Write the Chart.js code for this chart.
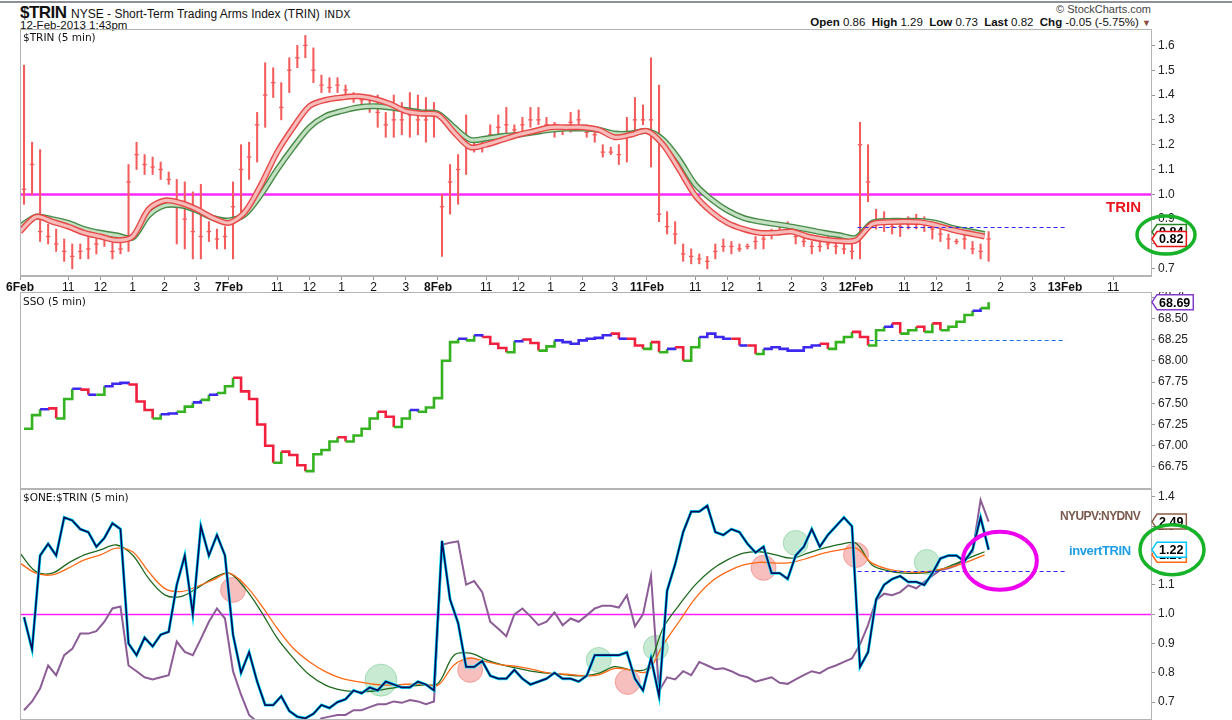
<!DOCTYPE html>
<html>
<head>
<meta charset="utf-8">
<script src="https://cdn.jsdelivr.net/npm/chart.js@4.4.1/dist/chart.umd.min.js"></script>
<style>
  body { margin: 0; background: #fff; width: 1232px; height: 720px; overflow: hidden; position: relative; font-family: "Liberation Sans", Arial, sans-serif; }
  .pane { position: absolute; left: 0; }
  .t { position: absolute; white-space: nowrap; color: #111; }
  .lbl { font: 10.5px "DejaVu Sans", sans-serif; }
</style>
</head>
<body>
<div style="position:absolute;left:0;top:1px;width:1232px;height:2px;background:#8c9099"></div>
<div class="t" style="left:20px;top:3px"><b style="font:bold 17px 'Liberation Sans Narrow','Liberation Sans';letter-spacing:-0.5px">$TRIN</b> <span style="font-size:12px">NYSE - Short-Term Trading Arms Index (TRIN)</span> <span style="font:10.5px 'DejaVu Sans'">INDX</span></div>
<div class="t" style="left:20px;top:19px;font-size:11.5px">12-Feb-2013 1:43pm</div>
<div class="t" style="right:81px;top:3px;font-size:11px;color:#444">© StockCharts.com</div>
<div class="t" style="right:81px;top:16px;font-size:11.5px"><b>Open</b> 0.86 &nbsp;<b>High</b> 1.29 &nbsp;<b>Low</b> 0.73 &nbsp;<b>Last</b> 0.82 &nbsp;<b>Chg</b> -0.05 (-5.75%) <span style="color:#8b4a3a;font-size:9px">▼</span></div>

<div class="pane" style="top:29px"><canvas id="trin" width="1232" height="262"></canvas></div>
<div class="pane" style="top:292px"><canvas id="sso" width="1232" height="197"></canvas></div>
<div class="pane" style="top:489px"><canvas id="one" width="1232" height="231"></canvas></div>

<div class="t lbl" style="left:23px;top:31px">$TRIN (5 min)</div>
<div class="t lbl" style="left:23px;top:295px">SSO (5 min)</div>
<div class="t lbl" style="left:23px;top:491px">$ONE:$TRIN (5 min)</div>
<div class="t" style="left:1106px;top:198px;font:bold 15px 'Liberation Sans';color:#e8141e">TRIN</div>
<div class="t" style="left:1060px;top:509px;font:bold 12px 'Liberation Sans';letter-spacing:-0.6px;color:#7a5a4e">NYUPV:NYDNV</div>
<div class="t" style="left:1069px;top:543px;font:bold 13px 'Liberation Sans';letter-spacing:-0.4px;color:#1e9ee6">invertTRIN</div>

<script>
// ---------- data (15-minute slots, 26 per session, starting 9:30) ----------
const days = ['6Feb', '7Feb', '8Feb', '11Feb', '12Feb', '13Feb'];
const hourLabels = ['11', '12', '1', '2', '3'];
const hourSlots = [6, 10, 14, 18, 22];
const SLOTS_PER_DAY = 26;
const X_MAX = 140.7;
const MA_STEP = 2;   // moving averages sampled every 30 min

const trinTicks = [0.7, 0.8, 0.9, 1.0, 1.1, 1.2, 1.3, 1.4, 1.5, 1.6];
const ssoTicks = [66.75, 67.0, 67.25, 67.5, 67.75, 68.0, 68.25, 68.5, 68.75];
const oneTicks = [0.7, 0.8, 0.9, 1.0, 1.1, 1.2, 1.3, 1.4];

const trinHigh = [
  1.52,1.21,1.18,0.88,0.86,0.82,0.80,0.80,0.83,0.84,0.84,0.81,0.81,1.12,1.21,1.16,1.15,1.13,1.09,1.06,1.05,1.01,1.04,0.89,0.86,0.87,
  1.05,1.20,1.21,1.33,1.53,1.51,1.45,1.55,1.60,1.64,1.59,1.48,1.47,1.47,1.44,1.41,1.40,1.40,1.40,1.33,1.40,1.37,1.41,1.40,1.39,1.37,
  1.00,1.12,1.16,1.32,1.21,1.22,1.28,1.32,1.35,1.28,1.31,1.35,1.35,1.31,1.29,1.27,1.33,1.34,1.28,1.27,1.20,1.19,1.20,1.31,1.39,1.36,
  1.55,1.44,0.93,0.89,0.80,0.78,0.76,0.75,0.80,0.82,0.81,0.80,0.80,0.83,0.85,0.86,0.87,0.89,0.86,0.84,0.81,0.81,0.84,0.82,0.81,0.80,
  1.29,1.20,0.94,0.93,0.90,0.90,0.91,0.92,0.91,0.88,0.86,0.84,0.82,0.84,0.81,0.80,0.85
];
const trinLow = [
  0.96,1.00,0.81,0.80,0.77,0.73,0.70,0.74,0.74,0.76,0.79,0.74,0.76,0.77,1.10,1.08,1.08,1.06,1.04,0.80,0.78,0.74,0.74,0.81,0.78,0.78,
  0.74,0.92,1.06,1.13,1.27,1.39,1.30,1.41,1.51,1.55,1.45,1.41,1.41,1.41,1.40,1.37,1.36,1.33,1.27,1.23,1.23,1.24,1.23,1.24,1.21,1.23,
  0.75,0.92,0.96,1.08,1.17,1.17,1.20,1.24,1.24,1.23,1.25,1.27,1.28,1.25,1.23,1.24,1.25,1.27,1.23,1.21,1.15,1.16,1.12,1.13,1.25,1.28,
  1.11,0.89,0.84,0.80,0.73,0.72,0.72,0.70,0.74,0.77,0.76,0.77,0.78,0.78,0.78,0.82,0.84,0.85,0.80,0.79,0.76,0.77,0.78,0.76,0.76,0.74,
  0.74,0.97,0.86,0.85,0.84,0.83,0.86,0.86,0.85,0.82,0.81,0.78,0.80,0.78,0.76,0.74,0.73
];
const trinClose = [
  1.02,1.12,0.85,0.83,0.80,0.77,0.75,0.77,0.78,0.80,0.82,0.77,0.78,1.05,1.16,1.12,1.11,1.10,1.06,0.95,0.90,0.85,0.83,0.85,0.82,0.83,
  0.95,1.10,1.15,1.28,1.40,1.45,1.35,1.50,1.55,1.60,1.50,1.44,1.43,1.44,1.42,1.39,1.38,1.36,1.33,1.28,1.30,1.30,1.32,1.30,1.30,1.32,
  0.95,1.05,1.10,1.20,1.19,1.20,1.24,1.27,1.28,1.26,1.28,1.30,1.30,1.28,1.26,1.26,1.29,1.30,1.25,1.24,1.17,1.17,1.16,1.25,1.30,1.30,
  1.30,0.92,0.87,0.84,0.76,0.75,0.74,0.73,0.77,0.79,0.79,0.78,0.79,0.81,0.82,0.84,0.85,0.87,0.83,0.81,0.79,0.79,0.80,0.79,0.78,0.77,
  1.20,1.05,0.88,0.88,0.87,0.87,0.88,0.89,0.88,0.86,0.84,0.82,0.81,0.82,0.78,0.77,0.82
];
const trinFastMA = [
  0.85,0.91,0.89,0.87,0.845,0.83,0.815,0.83,0.94,0.975,0.965,0.94,0.905,
  0.885,0.93,1.04,1.17,1.27,1.355,1.38,1.39,1.395,1.385,1.365,1.335,1.325,
  1.32,1.25,1.19,1.20,1.22,1.24,1.255,1.27,1.27,1.27,1.26,1.23,1.24,
  1.255,1.20,1.10,0.995,0.93,0.885,0.86,0.845,0.845,0.85,0.83,0.818,0.812,
  0.815,0.88,0.888,0.89,0.888,0.875,0.857,0.843,0.83
];
const trinSlowMA = [
  0.87,0.91,0.90,0.885,0.86,0.845,0.835,0.825,0.915,0.955,0.955,0.935,0.905,
  0.895,0.92,1.00,1.10,1.19,1.27,1.315,1.335,1.35,1.355,1.35,1.34,1.33,
  1.325,1.27,1.22,1.225,1.235,1.24,1.25,1.26,1.265,1.265,1.26,1.245,1.245,
  1.255,1.22,1.14,1.04,0.98,0.935,0.905,0.89,0.88,0.87,0.858,0.845,0.835,
  0.825,0.885,0.893,0.893,0.893,0.885,0.865,0.852,0.84
];
const ssoClose = [
  67.20,67.36,67.43,67.44,67.32,67.55,67.67,67.66,67.60,67.60,67.70,67.73,67.74,67.72,67.52,67.42,67.32,67.37,67.38,67.40,67.46,67.51,67.54,67.60,67.62,67.70,
  67.80,67.64,67.55,67.25,67.00,66.80,66.93,66.89,66.77,66.70,66.90,66.95,67.05,67.10,67.05,67.12,67.20,67.32,67.40,67.34,67.22,67.32,67.42,67.40,67.45,67.56,
  68.00,68.22,68.26,68.24,68.30,68.28,68.20,68.15,68.10,68.23,68.25,68.21,68.12,68.17,68.24,68.22,68.20,68.24,68.26,68.27,68.30,68.32,68.26,68.26,68.18,68.14,
  68.22,68.10,68.14,68.16,68.00,68.16,68.28,68.32,68.28,68.26,68.26,68.18,68.18,68.08,68.14,68.16,68.14,68.12,68.12,68.16,68.18,68.20,68.14,68.22,68.28,68.34,
  68.28,68.18,68.36,68.40,68.44,68.32,68.36,68.40,68.34,68.44,68.36,68.40,68.46,68.54,68.59,68.62,68.69
];
const invertTrin = [
  0.99,0.88,1.20,1.24,1.20,1.33,1.32,1.29,1.28,1.23,1.26,1.31,1.29,0.90,0.86,0.92,0.89,0.93,0.94,1.10,1.20,1.00,1.30,1.20,1.27,1.20,
  0.93,0.80,0.87,0.77,0.69,0.69,0.72,0.67,0.65,0.645,0.66,0.69,0.68,0.70,0.71,0.74,0.73,0.75,0.74,0.77,0.76,0.75,0.75,0.77,0.76,0.74,
  1.25,1.05,0.97,0.82,0.82,0.84,0.79,0.78,0.78,0.81,0.78,0.76,0.77,0.78,0.80,0.78,0.78,0.77,0.79,0.86,0.86,0.86,0.86,0.87,0.78,0.74,
  0.85,0.72,1.08,1.17,1.28,1.35,1.35,1.37,1.28,1.27,1.29,1.28,1.24,1.21,1.23,1.14,1.14,1.12,1.20,1.23,1.29,1.23,1.27,1.30,1.33,1.30,
  0.82,0.87,1.05,1.10,1.12,1.13,1.11,1.11,1.10,1.14,1.19,1.20,1.20,1.18,1.22,1.33,1.22
];
const upDownVol = [
  0.28,0.31,0.36,0.47,0.42,0.53,0.57,0.68,0.68,0.70,0.78,0.91,0.93,0.47,0.44,0.41,0.40,0.41,0.42,0.62,0.55,0.53,0.64,0.78,0.91,0.81,
  0.44,0.335,0.265,0.245,0.20,0.18,0.17,0.18,0.20,0.22,0.23,0.255,0.26,0.265,0.265,0.28,0.28,0.29,0.30,0.30,0.31,0.305,0.315,0.31,0.30,0.31,
  1.90,1.95,1.98,1.20,1.25,1.10,0.78,0.72,0.66,0.85,0.91,0.83,0.75,0.78,0.87,0.75,0.81,0.78,0.84,0.91,0.94,0.94,0.92,1.06,0.74,0.85,
  1.33,0.35,0.41,0.40,0.44,0.42,0.49,0.47,0.45,0.455,0.44,0.42,0.41,0.39,0.40,0.41,0.385,0.38,0.40,0.42,0.44,0.43,0.455,0.47,0.49,0.51,
  0.60,0.75,1.00,1.08,1.06,1.10,1.19,1.15,1.24,1.33,1.42,1.45,1.50,1.62,1.75,3.20,2.49
];
const invMaGreen = [
  1.208,1.145,1.14,1.174,1.202,1.219,1.236,1.202,1.122,1.066,1.06,1.088,1.122,
  1.14,1.088,1.009,0.918,0.85,0.793,0.758,0.741,0.736,0.738,0.747,0.753,0.758,
  0.764,0.86,0.867,0.844,0.827,0.815,0.804,0.798,0.793,0.79,0.798,0.821,0.81,
  0.815,0.952,1.031,1.10,1.151,1.185,1.208,1.213,1.202,1.191,1.208,1.225,1.238,
  1.242,1.168,1.148,1.14,1.14,1.148,1.168,1.191,1.213
];
const invMaOrange = [
  1.174,1.14,1.134,1.157,1.185,1.202,1.225,1.213,1.145,1.088,1.077,1.094,1.117,
  1.14,1.10,1.031,0.952,0.884,0.838,0.804,0.781,0.77,0.761,0.758,0.761,0.761,
  0.758,0.827,0.85,0.838,0.827,0.821,0.81,0.798,0.795,0.79,0.793,0.815,0.81,
  0.804,0.895,0.975,1.054,1.111,1.145,1.168,1.177,1.174,1.177,1.191,1.208,1.219,
  1.225,1.174,1.154,1.145,1.143,1.151,1.162,1.18,1.202
];

// reference levels and chart markings
const trinBase = 1.0, trinSupport = 0.87, ssoSupport = 68.24, oneBase = 1.0, oneSupport = 1.147;
const supportFrom = 104.2, supportTo = 130.2;
const oneMarks = [
  [26.5, 1.083, 'r'], [44.9, 0.775, 'g'], [56, 0.81, 'r'], [72, 0.844, 'g'], [75.6, 0.769, 'r'],
  [79.1, 0.885, 'g'], [92.5, 1.158, 'r'], [96.5, 1.243, 'g'], [104, 1.202, 'r'], [112.8, 1.178, 'g']
];
const oneFocus = [121.9, 1.182];

// ---------- helpers ----------
const FONT = 'Liberation Sans';
const DASH_BLUE = 'rgb(40,40,255)';
const atSlot = arr => arr.map((v, i) => ({ x: i + 0.5, y: v }));
const atMa = arr => arr.map((v, i) => ({ x: i * MA_STEP, y: v }));

const xTicks = [];
days.forEach((d, i) => {
  xTicks.push(i * SLOTS_PER_DAY);
  hourSlots.forEach(h => { if (i * SLOTS_PER_DAY + h < X_MAX - 4) xTicks.push(i * SLOTS_PER_DAY + h); });
});
function xLabel(v) {
  if (v % SLOTS_PER_DAY === 0) return days[v / SLOTS_PER_DAY];
  return hourLabels[hourSlots.indexOf(v % SLOTS_PER_DAY)];
}
// keep label overhang from shrinking the plot area
function noPad(s) { s.paddingTop = 0; s.paddingBottom = 0; s.paddingLeft = 0; s.paddingRight = 0; }

function xAxis(show) {
  return {
    type: 'linear', min: 0, max: X_MAX, offset: false, display: show,
    afterBuildTicks: s => { s.ticks = xTicks.map(v => ({ value: v })); },
    afterFit: s => { s.height = show ? 15 : 0; noPad(s); },
    ticks: {
      autoSkip: false, maxRotation: 0, padding: 0, color: '#111',
      callback: v => xLabel(v),
      font: c => ({ family: FONT, size: 12, weight: c.tick && c.tick.value % SLOTS_PER_DAY === 0 ? 'bold' : 'normal' })
    },
    grid: { drawOnChartArea: false, tickLength: 4, color: '#999', offset: false },
    border: { color: '#b4b4b4' }
  };
}
function yAxis(min, max, ticks, digits) {
  return {
    position: 'right', min, max,
    afterFit: s => { s.width = 81; noPad(s); },
    afterBuildTicks: s => { s.ticks = ticks.map(v => ({ value: v })); },
    ticks: { callback: v => v.toFixed(digits), color: '#222', font: { family: FONT, size: 12 }, padding: 3, autoSkip: false },
    grid: { drawOnChartArea: false, tickLength: 4, color: '#999' },
    border: { color: '#b4b4b4' }
  };
}

function frame(c) {
  const a = c.chartArea, ctx = c.ctx;
  ctx.save();
  ctx.strokeStyle = '#b4b4b4';
  ctx.lineWidth = 1;
  ctx.strokeRect(a.left + 0.5, a.top + 0.5, a.width, a.height - 1);
  ctx.restore();
}
function level(c, v, color, width, dash, x0, x1) {
  const ctx = c.ctx, a = c.chartArea;
  const y = Math.round(c.scales.y.getPixelForValue(v)) + 0.5;
  const l = x0 == null ? a.left : c.scales.x.getPixelForValue(x0);
  const r = x1 == null ? a.right : c.scales.x.getPixelForValue(x1);
  ctx.save();
  ctx.strokeStyle = color;
  ctx.lineWidth = width;
  ctx.setLineDash(dash || []);
  ctx.beginPath(); ctx.moveTo(l, y); ctx.lineTo(r, y); ctx.stroke();
  ctx.restore();
}
function valueBox(c, y, text, border) {
  const ctx = c.ctx, x = c.chartArea.right + 1;
  ctx.save();
  ctx.font = 'bold 12.5px "Liberation Sans"';
  const w = ctx.measureText(text).width + 5, h = 15;
  ctx.beginPath();
  ctx.moveTo(x, y); ctx.lineTo(x + 5, y - h / 2); ctx.lineTo(x + 5 + w, y - h / 2);
  ctx.lineTo(x + 5 + w, y + h / 2); ctx.lineTo(x + 5, y + h / 2); ctx.closePath();
  ctx.fillStyle = '#fff'; ctx.fill();
  ctx.lineWidth = 1.5; ctx.strokeStyle = border; ctx.stroke();
  ctx.fillStyle = '#000'; ctx.textBaseline = 'middle';
  ctx.fillText(text, x + 7, y + 1);
  ctx.restore();
}
function ring(ctx, x, y, rx, ry, color, width) {
  ctx.save();
  ctx.strokeStyle = color; ctx.lineWidth = width;
  ctx.beginPath(); ctx.ellipse(x, y, rx, ry, 0, 0, Math.PI * 2); ctx.stroke();
  ctx.restore();
}

const base = {
  responsive: false, animation: false,
  layout: { autoPadding: false, padding: { left: 20, right: 0, top: 0, bottom: 0 } },
  plugins: { legend: { display: false }, tooltip: { enabled: false } },
  elements: { point: { radius: 0 } }
};

// ---------- $TRIN ----------
const TRIN_RED = 'rgb(244,92,92)';
new Chart(document.getElementById('trin'), {
  type: 'bar',
  data: {
    datasets: [
      { type: 'bar', data: trinHigh.map((h, i) => ({ x: i + 0.5, y: [trinLow[i], h] })), backgroundColor: TRIN_RED, barThickness: 1.4, order: 10 },
      { type: 'line', data: atSlot(trinClose), showLine: false, pointStyle: 'line', pointRadius: 2.2, borderColor: TRIN_RED, borderWidth: 1.3, order: 9 },
      { type: 'line', data: atMa(trinSlowMA), borderColor: 'rgb(72,138,72)', borderWidth: 6, tension: 0.3, order: 4 },
      { type: 'line', data: atMa(trinSlowMA), borderColor: 'rgb(196,224,194)', borderWidth: 3.2, tension: 0.3, order: 3 },
      { type: 'line', data: atMa(trinFastMA), borderColor: 'rgb(232,72,72)', borderWidth: 6, tension: 0.3, order: 2 },
      { type: 'line', data: atMa(trinFastMA), borderColor: 'rgb(246,188,186)', borderWidth: 3.2, tension: 0.3, order: 1 }
    ]
  },
  options: Object.assign({}, base, {
    scales: { x: xAxis(true), y: yAxis(0.671, 1.666, trinTicks, 1) }
  }),
  plugins: [{
    id: 'trinMarks',
    beforeDatasetsDraw(c) { level(c, trinBase, 'rgb(255,40,255)', 2.5); },
    afterDatasetsDraw(c) { level(c, trinSupport, DASH_BLUE, 1.2, [4, 3], supportFrom, supportTo); },
    afterDraw(c) {
      frame(c);
      const sy = c.scales.y;
      const yLast = sy.getPixelForValue(trinClose[trinClose.length - 1]);
      valueBox(c, yLast - 7, trinSlowMA[trinSlowMA.length - 1].toFixed(2), 'rgb(40,130,40)');
      valueBox(c, yLast, trinClose[trinClose.length - 1].toFixed(2), 'rgb(230,20,20)');
      ring(c.ctx, c.chartArea.right + 15, yLast - 4, 29, 19, 'rgb(22,178,40)', 3.5);
    }
  }]
});

// ---------- SSO ----------
const SSO_UP = 'rgb(52,178,32)', SSO_DOWN = 'rgb(240,32,62)', SSO_FLAT = 'rgb(60,40,238)';
new Chart(document.getElementById('sso'), {
  type: 'line',
  data: {
    datasets: [{
      data: atSlot(ssoClose), stepped: true, borderWidth: 2.6, borderColor: SSO_FLAT,
      segment: {
        borderColor: s => {
          const d = s.p1.parsed.y - s.p0.parsed.y;
          return d > 0.04 ? SSO_UP : d < -0.04 ? SSO_DOWN : SSO_FLAT;
        }
      }
    }]
  },
  options: Object.assign({}, base, {
    scales: { x: xAxis(false), y: yAxis(66.49, 68.81, ssoTicks, 2) }
  }),
  plugins: [{
    id: 'ssoMarks',
    afterDatasetsDraw(c) { level(c, ssoSupport, 'rgb(20,110,240)', 1.2, [4, 3], 105.7, 130.1); },
    afterDraw(c) {
      frame(c);
      valueBox(c, c.scales.y.getPixelForValue(ssoClose[ssoClose.length - 1]), ssoClose[ssoClose.length - 1].toFixed(2), 'rgb(130,60,200)');
    }
  }]
});

// ---------- $ONE:$TRIN ----------
new Chart(document.getElementById('one'), {
  type: 'line',
  data: {
    datasets: [
      { data: atSlot(upDownVol), yAxisID: 'yv', borderColor: 'rgb(140,92,150)', borderWidth: 2, order: 5 },
      { data: atMa(invMaGreen), borderColor: 'rgb(30,105,30)', borderWidth: 1.3, tension: 0.35, order: 4 },
      { data: atMa(invMaOrange), borderColor: 'rgb(255,105,20)', borderWidth: 1.3, tension: 0.35, order: 3 },
      { data: atSlot(invertTrin), borderColor: 'rgb(0,225,255)', borderWidth: 3, order: 2 },
      { data: atSlot(invertTrin), borderColor: 'rgb(12,12,90)', borderWidth: 1.7, order: 1 }
    ]
  },
  options: Object.assign({}, base, {
    scales: {
      x: xAxis(false),
      y: yAxis(0.639, 1.427, oneTicks, 1),
      yv: { type: 'logarithmic', display: false, min: 0.25, max: 3.63 }
    }
  }),
  plugins: [{
    id: 'oneMarks',
    beforeDatasetsDraw(c) {
      const ctx = c.ctx, sx = c.scales.x, sy = c.scales.y;
      level(c, oneBase, 'rgb(255,30,255)', 1.4);
      ctx.save();
      oneMarks.forEach(([s, v, k]) => {
        ctx.beginPath();
        ctx.arc(sx.getPixelForValue(s), sy.getPixelForValue(v), k === 'g' && s < 50 ? 16 : 12.5, 0, Math.PI * 2);
        ctx.fillStyle = k === 'g' ? 'rgba(110,200,140,0.38)' : 'rgba(235,105,100,0.42)';
        ctx.fill();
        ctx.strokeStyle = k === 'g' ? 'rgba(110,200,140,0.5)' : 'rgba(235,105,100,0.5)';
        ctx.lineWidth = 1;
        ctx.stroke();
      });
      ctx.restore();
    },
    afterDatasetsDraw(c) {
      level(c, oneSupport, DASH_BLUE, 1.2, [4, 3], supportFrom, supportTo);
      ring(c.ctx, c.scales.x.getPixelForValue(oneFocus[0]), c.scales.y.getPixelForValue(oneFocus[1]), 37, 29, 'rgb(238,0,238)', 4);
    },
    afterDraw(c) {
      frame(c);
      const sy = c.scales.y;
      const yInv = sy.getPixelForValue(invertTrin[invertTrin.length - 1]);
      valueBox(c, c.scales.yv.getPixelForValue(upDownVol[upDownVol.length - 1]), upDownVol[upDownVol.length - 1].toFixed(2), 'rgb(140,90,70)');
      valueBox(c, yInv + 5, invMaOrange[invMaOrange.length - 1].toFixed(2), 'rgb(255,105,20)');
      valueBox(c, yInv, invertTrin[invertTrin.length - 1].toFixed(2), 'rgb(0,200,255)');
      ring(c.ctx, c.chartArea.right + 21, yInv, 32, 25, 'rgb(22,178,40)', 3.5);
    }
  }]
});
</script>
</body>
</html>
